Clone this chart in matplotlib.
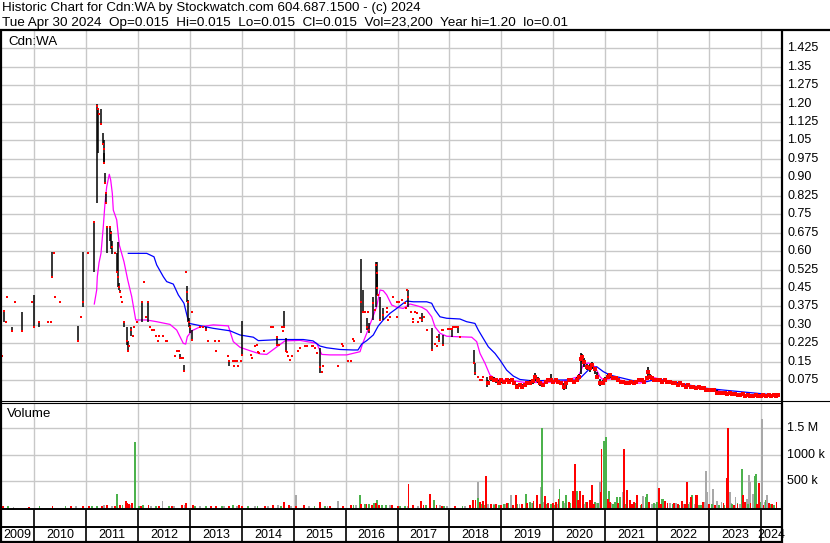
import matplotlib
matplotlib.use('Agg')
import matplotlib.pyplot as plt
from matplotlib.transforms import blended_transform_factory
from matplotlib.lines import Line2D

plt.rcParams['font.family'] = ['Liberation Sans', 'DejaVu Sans']

# ---------------- texts ----------------
title_line = "Historic Chart for Cdn:WA by Stockwatch.com 604.687.1500 - (c) 2024"
quote_line = ("Tue Apr 30 2024  Op=0.015  Hi=0.015  Lo=0.015  Cl=0.015  "
              "Vol=23,200  Year hi=1.20  lo=0.01")
symbol = "Cdn:WA"
volume_title = "Volume"

# ---------------- axes / ticks ----------------
year_labels = list(range(2009, 2025))
price_ticks = [0.075, 0.15, 0.225, 0.30, 0.375, 0.45, 0.525, 0.60, 0.675, 0.75,
               0.825, 0.90, 0.975, 1.05, 1.125, 1.20, 1.275, 1.35, 1.425]
price_tick_labels = ['0.075', '0.15', '0.225', '0.30', '0.375', '0.45', '0.525',
                     '0.60', '0.675', '0.75', '0.825', '0.90', '0.975', '1.05',
                     '1.125', '1.20', '1.275', '1.35', '1.425']
vol_ticks = [500000, 1000000, 1500000]
vol_tick_labels = ['500 k', '1000 k', '1.5 M']

# ---------------- price bars (decimal year, high, low, close) ----------------
early_dates = [2009.372, 2009.416, 2009.45, 2009.48, 2009.565, 2009.628, 2009.757, 2009.956,
               2010.0, 2010.096, 2010.264, 2010.316, 2010.335, 2010.38, 2010.40, 2010.495,
               2010.848, 2010.90, 2010.933, 2011.029, 2011.15, 2011.202, 2011.222, 2011.24,
               2011.279, 2011.33, 2011.34, 2011.35, 2011.36, 2011.375, 2011.385, 2011.395,
               2011.45, 2011.47, 2011.50, 2011.56, 2011.588, 2011.618, 2011.635, 2011.65,
               2011.67, 2011.69, 2011.728, 2011.78, 2011.815, 2011.83, 2011.86, 2011.90,
               2011.93, 2011.97, 2012.069, 2012.114, 2012.152, 2012.197, 2012.229, 2012.27,
               2012.306, 2012.34, 2012.38, 2012.41, 2012.486, 2012.53, 2012.56, 2012.711,
               2012.744, 2012.78, 2012.807, 2012.84, 2012.86, 2012.884, 2012.93, 2012.945,
               2012.96, 2012.975, 2013.0, 2013.03, 2013.045, 2013.193, 2013.26, 2013.303,
               2013.353, 2013.482, 2013.50, 2013.559, 2013.74, 2013.76, 2013.834, 2013.85,
               2013.867, 2013.90, 2013.92, 2013.98, 2014.008, 2014.17, 2014.19, 2014.252,
               2014.285, 2014.305, 2014.335, 2014.432, 2014.555, 2014.605, 2014.67, 2014.682,
               2014.72, 2014.766, 2014.785, 2014.817, 2014.85, 2014.862, 2014.895, 2014.927,
               2014.959, 2015.087, 2015.12, 2015.216, 2015.248, 2015.344, 2015.376, 2015.408,
               2015.453, 2015.505, 2015.537, 2015.569, 2015.858, 2015.922, 2015.954, 2016.05,
               2016.096, 2016.134, 2016.16, 2016.295, 2016.327, 2016.372, 2016.404, 2016.436,
               2016.455, 2016.533, 2016.565, 2016.577, 2016.597, 2016.61, 2016.629, 2016.661,
               2016.725, 2016.79, 2016.802, 2016.822, 2016.854, 2016.918, 2016.982, 2016.995,
               2017.033, 2017.078, 2017.143, 2017.162, 2017.188, 2017.207, 2017.258, 2017.29,
               2017.303, 2017.335, 2017.38, 2017.40, 2017.432, 2017.464, 2017.509, 2017.573,
               2017.656, 2017.72, 2017.753, 2017.766, 2017.804, 2017.85, 2017.868, 2017.881,
               2017.978, 2018.01, 2018.042, 2018.074, 2018.106, 2018.138, 2018.17, 2018.202,
               2018.472, 2018.491, 2018.556, 2018.588, 2018.62, 2018.652, 2018.716]
early_highs = [0.175, 0.356, 0.313, 0.415, 0.292, 0.394, 0.354, 0.394,
               0.42, 0.313, 0.313, 0.313, 0.595, 0.594, 0.415, 0.394,
               0.296, 0.333, 0.595, 0.594, 0.717, 1.197, 1.181, 1.158,
               1.18, 1.079, 1.05, 1.0, 0.917, 0.838, 0.80, 0.70,
               0.70, 0.68, 0.64, 0.594, 0.594, 0.636, 0.47, 0.44,
               0.415, 0.394, 0.316, 0.292, 0.236, 0.215, 0.292, 0.256,
               0.292, 0.313, 0.394, 0.474, 0.333, 0.394, 0.292, 0.28,
               0.28, 0.256, 0.236, 0.256, 0.256, 0.236, 0.236, 0.175,
               0.195, 0.195, 0.181, 0.167, 0.167, 0.137, 0.516, 0.458,
               0.40, 0.33, 0.30, 0.354, 0.28, 0.292, 0.292, 0.292,
               0.236, 0.236, 0.195, 0.236, 0.175, 0.157, 0.154, 0.133,
               0.154, 0.154, 0.133, 0.154, 0.316, 0.176, 0.167, 0.215,
               0.22, 0.19, 0.184, 0.195, 0.292, 0.292, 0.25, 0.25,
               0.22, 0.293, 0.277, 0.358, 0.245, 0.191, 0.174, 0.157,
               0.174, 0.195, 0.205, 0.214, 0.214, 0.214, 0.214, 0.205,
               0.184, 0.205, 0.11, 0.133, 0.133, 0.222, 0.214, 0.155,
               0.155, 0.243, 0.236, 0.567, 0.442, 0.354, 0.327, 0.354,
               0.306, 0.415, 0.361, 0.557, 0.557, 0.51, 0.422, 0.415,
               0.367, 0.367, 0.351, 0.32, 0.334, 0.412, 0.331, 0.394,
               0.392, 0.401, 0.388, 0.367, 0.442, 0.442, 0.354, 0.324,
               0.313, 0.354, 0.347, 0.313, 0.327, 0.347, 0.331, 0.279,
               0.286, 0.222, 0.25, 0.214, 0.263, 0.279, 0.259, 0.279,
               0.283, 0.283, 0.283, 0.29, 0.29, 0.29, 0.296, 0.25,
               0.198, 0.144, 0.09, 0.076, 0.076, 0.09, 0.09]
early_lows = [0.175, 0.312, 0.313, 0.415, 0.276, 0.394, 0.276, 0.394,
              0.292, 0.292, 0.313, 0.313, 0.496, 0.594, 0.415, 0.394,
              0.236, 0.333, 0.374, 0.594, 0.516, 0.797, 0.998, 1.158,
              1.12, 1.03, 0.96, 0.957, 0.876, 0.797, 0.797, 0.592,
              0.64, 0.61, 0.59, 0.594, 0.516, 0.455, 0.44, 0.43,
              0.415, 0.394, 0.292, 0.22, 0.195, 0.215, 0.256, 0.256,
              0.292, 0.313, 0.313, 0.474, 0.333, 0.313, 0.292, 0.28,
              0.28, 0.256, 0.236, 0.256, 0.256, 0.236, 0.236, 0.175,
              0.195, 0.195, 0.167, 0.167, 0.167, 0.114, 0.516, 0.394,
              0.31, 0.29, 0.266, 0.354, 0.24, 0.292, 0.292, 0.28,
              0.236, 0.236, 0.195, 0.236, 0.175, 0.133, 0.154, 0.133,
              0.154, 0.154, 0.133, 0.154, 0.176, 0.176, 0.167, 0.215,
              0.22, 0.19, 0.184, 0.195, 0.292, 0.292, 0.25, 0.216,
              0.22, 0.293, 0.277, 0.29, 0.195, 0.191, 0.174, 0.157,
              0.174, 0.195, 0.205, 0.214, 0.214, 0.214, 0.214, 0.205,
              0.184, 0.103, 0.11, 0.133, 0.133, 0.222, 0.214, 0.155,
              0.155, 0.243, 0.236, 0.266, 0.347, 0.354, 0.279, 0.354,
              0.266, 0.32, 0.361, 0.374, 0.45, 0.42, 0.422, 0.32,
              0.32, 0.367, 0.351, 0.32, 0.334, 0.412, 0.331, 0.394,
              0.392, 0.401, 0.388, 0.367, 0.442, 0.374, 0.354, 0.324,
              0.313, 0.354, 0.347, 0.313, 0.327, 0.313, 0.331, 0.279,
              0.195, 0.222, 0.25, 0.214, 0.236, 0.279, 0.214, 0.279,
              0.283, 0.283, 0.252, 0.29, 0.29, 0.29, 0.266, 0.25,
              0.144, 0.096, 0.09, 0.076, 0.076, 0.09, 0.049]
early_closes = [0.175, 0.356, 0.313, 0.415, 0.276, 0.394, 0.276, 0.394,
                0.292, 0.313, 0.313, 0.313, 0.496, 0.594, 0.415, 0.394,
                0.236, 0.333, 0.394, 0.594, 0.717, 1.19, 1.177, 1.158,
                1.117, 1.036, 1.015, 0.96, 0.878, 0.835, 0.797, 0.70,
                0.70, 0.675, 0.618, 0.594, 0.516, 0.496, 0.455, 0.435,
                0.415, 0.394, 0.313, 0.236, 0.195, 0.215, 0.28, 0.256,
                0.292, 0.313, 0.394, 0.474, 0.333, 0.394, 0.292, 0.28,
                0.28, 0.256, 0.236, 0.256, 0.256, 0.236, 0.236, 0.175,
                0.195, 0.195, 0.167, 0.167, 0.167, 0.114, 0.516, 0.435,
                0.394, 0.313, 0.292, 0.354, 0.24, 0.292, 0.292, 0.28,
                0.236, 0.236, 0.195, 0.236, 0.175, 0.154, 0.154, 0.133,
                0.154, 0.154, 0.133, 0.154, 0.176, 0.176, 0.167, 0.215,
                0.22, 0.19, 0.184, 0.195, 0.292, 0.292, 0.25, 0.22,
                0.22, 0.293, 0.277, 0.29, 0.195, 0.191, 0.174, 0.157,
                0.174, 0.195, 0.205, 0.214, 0.214, 0.214, 0.214, 0.205,
                0.184, 0.13, 0.11, 0.133, 0.133, 0.222, 0.214, 0.155,
                0.155, 0.243, 0.236, 0.394, 0.354, 0.354, 0.29, 0.354,
                0.28, 0.388, 0.361, 0.544, 0.51, 0.449, 0.422, 0.32,
                0.34, 0.367, 0.351, 0.32, 0.334, 0.412, 0.331, 0.394,
                0.392, 0.401, 0.388, 0.367, 0.442, 0.412, 0.354, 0.324,
                0.313, 0.354, 0.347, 0.313, 0.327, 0.32, 0.331, 0.279,
                0.198, 0.222, 0.25, 0.214, 0.236, 0.279, 0.22, 0.279,
                0.283, 0.283, 0.283, 0.29, 0.29, 0.29, 0.29, 0.25,
                0.144, 0.103, 0.09, 0.076, 0.076, 0.09, 0.069]

late_dates = [2018.75, 2018.80, 2018.85, 2018.90, 2018.95, 2019.00, 2019.05, 2019.10,
              2019.15, 2019.20, 2019.25, 2019.30, 2019.35, 2019.40, 2019.45, 2019.50,
              2019.55, 2019.60, 2019.65, 2019.70, 2019.75, 2019.80, 2019.85, 2019.90,
              2019.95, 2020.00, 2020.05, 2020.10, 2020.15, 2020.20, 2020.25, 2020.30,
              2020.35, 2020.40, 2020.45, 2020.50, 2020.53, 2020.56, 2020.60, 2020.65,
              2020.70, 2020.75, 2020.80, 2020.85, 2020.90, 2020.95, 2021.00, 2021.05,
              2021.10, 2021.15, 2021.20, 2021.25, 2021.30, 2021.35, 2021.40, 2021.45,
              2021.50, 2021.55, 2021.60, 2021.65, 2021.70, 2021.75, 2021.80, 2021.83,
              2021.86, 2021.90, 2021.95, 2022.00, 2022.05, 2022.10, 2022.15, 2022.20,
              2022.25, 2022.30, 2022.35, 2022.40, 2022.45, 2022.50, 2022.55, 2022.60,
              2022.65, 2022.70, 2022.75, 2022.80, 2022.85, 2022.90, 2022.95, 2023.00,
              2023.05, 2023.10, 2023.15, 2023.20, 2023.25, 2023.30, 2023.35, 2023.40,
              2023.45, 2023.50, 2023.55, 2023.60, 2023.65, 2023.70, 2023.75, 2023.80,
              2023.85, 2023.90, 2023.95, 2024.00, 2024.05, 2024.10, 2024.15, 2024.20,
              2024.25, 2024.30, 2024.33]
late_highs = [0.075, 0.09, 0.09, 0.08, 0.076, 0.08, 0.076, 0.085,
              0.08, 0.085, 0.07, 0.06, 0.065, 0.06, 0.065, 0.07,
              0.075, 0.08, 0.105, 0.09, 0.07, 0.065, 0.075, 0.08,
              0.10, 0.076, 0.08, 0.076, 0.07, 0.062, 0.07, 0.08,
              0.08, 0.076, 0.09, 0.10, 0.185, 0.18, 0.165, 0.14,
              0.14, 0.15, 0.13, 0.11, 0.08, 0.075, 0.09, 0.10,
              0.10, 0.09, 0.09, 0.085, 0.076, 0.076, 0.07, 0.07,
              0.076, 0.07, 0.076, 0.083, 0.083, 0.076, 0.09, 0.13,
              0.10, 0.09, 0.083, 0.083, 0.083, 0.076, 0.08, 0.076,
              0.076, 0.069, 0.069, 0.062, 0.069, 0.062, 0.056, 0.062,
              0.056, 0.056, 0.049, 0.056, 0.049, 0.049, 0.042, 0.042,
              0.04, 0.04, 0.035, 0.028, 0.028, 0.025, 0.025, 0.028,
              0.022, 0.022, 0.02, 0.02, 0.022, 0.018, 0.018, 0.015,
              0.015, 0.018, 0.015, 0.015, 0.018, 0.015, 0.02, 0.015,
              0.018, 0.015, 0.015]
late_lows = [0.055, 0.07, 0.07, 0.065, 0.06, 0.065, 0.062, 0.07,
             0.06, 0.07, 0.055, 0.045, 0.05, 0.045, 0.05, 0.055,
             0.055, 0.06, 0.07, 0.065, 0.05, 0.05, 0.06, 0.07,
             0.07, 0.06, 0.07, 0.062, 0.055, 0.035, 0.04, 0.07,
             0.07, 0.062, 0.07, 0.08, 0.10, 0.15, 0.13, 0.115,
             0.11, 0.12, 0.10, 0.08, 0.05, 0.055, 0.07, 0.08,
             0.085, 0.076, 0.076, 0.07, 0.062, 0.062, 0.056, 0.056,
             0.062, 0.056, 0.062, 0.069, 0.069, 0.062, 0.076, 0.09,
             0.083, 0.076, 0.069, 0.069, 0.069, 0.062, 0.069, 0.062,
             0.062, 0.056, 0.056, 0.05, 0.056, 0.049, 0.042, 0.049,
             0.042, 0.042, 0.035, 0.042, 0.035, 0.035, 0.03, 0.03,
             0.028, 0.028, 0.015, 0.018, 0.018, 0.015, 0.015, 0.018,
             0.015, 0.012, 0.012, 0.012, 0.012, 0.01, 0.01, 0.01,
             0.01, 0.01, 0.01, 0.01, 0.01, 0.01, 0.012, 0.01,
             0.012, 0.01, 0.015]
late_closes = [0.062, 0.085, 0.076, 0.076, 0.062, 0.076, 0.069, 0.076,
               0.069, 0.076, 0.062, 0.049, 0.056, 0.049, 0.056, 0.062,
               0.062, 0.07, 0.09, 0.076, 0.062, 0.056, 0.069, 0.076,
               0.076, 0.069, 0.076, 0.069, 0.062, 0.049, 0.062, 0.076,
               0.076, 0.069, 0.076, 0.09, 0.16, 0.17, 0.15, 0.13,
               0.125, 0.135, 0.12, 0.09, 0.062, 0.062, 0.076, 0.09,
               0.095, 0.083, 0.083, 0.076, 0.069, 0.069, 0.062, 0.062,
               0.069, 0.062, 0.069, 0.076, 0.076, 0.069, 0.083, 0.11,
               0.09, 0.083, 0.076, 0.076, 0.076, 0.069, 0.076, 0.069,
               0.069, 0.062, 0.062, 0.056, 0.062, 0.056, 0.049, 0.056,
               0.049, 0.049, 0.042, 0.049, 0.042, 0.042, 0.035, 0.035,
               0.035, 0.035, 0.022, 0.022, 0.022, 0.022, 0.02, 0.022,
               0.018, 0.018, 0.015, 0.015, 0.018, 0.012, 0.015, 0.012,
               0.012, 0.015, 0.012, 0.012, 0.015, 0.012, 0.015, 0.012,
               0.015, 0.012, 0.015]

# ---------------- moving averages ----------------
ma_short_dates = [2011.156, 2011.202, 2011.214, 2011.247, 2011.285, 2011.329, 2011.362, 2011.395,
                  2011.445, 2011.472, 2011.503, 2011.522, 2011.588, 2011.638, 2011.728, 2011.80,
                  2011.877, 2011.954, 2012.166, 2012.358, 2012.615, 2012.744, 2012.871, 2012.917,
                  2012.948, 2013.033, 2013.193, 2013.449, 2013.738, 2013.834, 2013.963, 2014.156,
                  2014.349, 2014.478, 2014.638, 2014.734, 2014.83, 2015.119, 2015.441, 2015.538,
                  2015.697, 2016.019, 2016.276, 2016.328, 2016.405, 2016.501, 2016.597, 2016.661,
                  2016.724, 2016.79, 2016.886, 2016.983, 2017.11, 2017.239, 2017.368, 2017.464,
                  2017.561, 2017.657, 2017.721, 2017.817, 2017.946, 2018.139, 2018.428, 2018.524,
                  2018.588, 2018.684, 2018.78, 2018.909, 2019.229, 2019.487, 2020.129, 2020.482,
                  2020.578, 2020.674, 2020.803, 2020.90, 2020.963, 2021.156, 2021.414, 2021.671,
                  2021.80, 2021.863, 2021.992, 2022.312, 2022.57, 2022.956, 2023.148, 2023.341,
                  2023.694, 2023.983, 2024.335]
ma_short_values = [0.385, 0.442, 0.496, 0.553, 0.591, 0.699, 0.795, 0.862,
                   0.9125, 0.889, 0.835, 0.767, 0.727, 0.625, 0.557, 0.483,
                   0.415, 0.320, 0.320, 0.313, 0.302, 0.279, 0.225, 0.222,
                   0.252, 0.276, 0.292, 0.300, 0.296, 0.232, 0.209, 0.195,
                   0.182, 0.180, 0.205, 0.22, 0.235, 0.237, 0.225, 0.180,
                   0.178, 0.178, 0.191, 0.225, 0.266, 0.320, 0.374, 0.442,
                   0.439, 0.422, 0.381, 0.372, 0.367, 0.385, 0.378, 0.372,
                   0.36, 0.333, 0.292, 0.266, 0.254, 0.252, 0.250, 0.232,
                   0.184, 0.144, 0.096, 0.078, 0.073, 0.065, 0.068, 0.089,
                   0.137, 0.146, 0.13, 0.089, 0.076, 0.083, 0.069, 0.063,
                   0.076, 0.089, 0.083, 0.063, 0.052, 0.040, 0.035, 0.022,
                   0.015, 0.0114, 0.009]
ma_long_dates = [2011.811, 2012.166, 2012.306, 2012.358, 2012.486, 2012.551, 2012.678, 2012.775,
                 2012.884, 2012.948, 2012.987, 2013.193, 2013.449, 2013.770, 2013.963, 2014.22,
                 2014.316, 2014.734, 2015.183, 2015.37, 2015.505, 2015.634, 2015.89, 2016.141,
                 2016.237, 2016.308, 2016.405, 2016.532, 2016.628, 2016.724, 2016.853, 2016.983,
                 2017.11, 2017.175, 2017.303, 2017.561, 2017.657, 2017.721, 2017.817, 2017.946,
                 2018.202, 2018.331, 2018.491, 2018.555, 2018.651, 2018.748, 2018.877, 2018.973,
                 2019.102, 2019.229, 2019.358, 2019.615, 2020.129, 2020.482, 2020.578, 2020.707,
                 2020.836, 2020.963, 2021.092, 2021.285, 2021.541, 2021.80, 2021.927, 2022.119,
                 2022.312, 2022.441, 2022.697, 2022.956, 2023.276, 2023.597, 2023.919, 2024.239,
                 2024.335]
ma_long_values = [0.591, 0.591, 0.577, 0.544, 0.496, 0.476, 0.466, 0.422,
                  0.388, 0.333, 0.306, 0.297, 0.286, 0.276, 0.259, 0.250,
                  0.236, 0.2405, 0.2405, 0.235, 0.214, 0.207, 0.200, 0.198,
                  0.198, 0.222, 0.236, 0.259, 0.296, 0.320, 0.347, 0.367,
                  0.388, 0.397, 0.394, 0.394, 0.388, 0.361, 0.333, 0.327,
                  0.324, 0.313, 0.306, 0.279, 0.245, 0.211, 0.184, 0.157,
                  0.116, 0.092, 0.078, 0.072, 0.076, 0.076, 0.096, 0.123,
                  0.13, 0.11, 0.096, 0.086, 0.073, 0.069, 0.076, 0.076,
                  0.069, 0.063, 0.052, 0.042, 0.035, 0.0285, 0.022, 0.0155,
                  0.0114]

# ---------------- volume (decimal year, shares) ----------------
up_dates = [2009.50, 2010.10, 2010.60, 2011.20, 2011.60, 2011.70, 2011.94, 2012.10,
            2012.60, 2013.30, 2013.83, 2014.30, 2014.90, 2015.60, 2016.28, 2016.45,
            2016.54, 2016.60, 2016.70, 2017.05, 2017.70, 2017.90, 2018.55, 2018.62,
            2018.85, 2019.05, 2019.30, 2019.47, 2019.60, 2019.79, 2019.95, 2020.12,
            2020.25, 2020.33, 2020.46, 2020.51, 2020.74, 2020.80, 2020.98, 2021.01,
            2021.07, 2021.15, 2021.23, 2021.29, 2021.50, 2021.79, 2021.81, 2021.94,
            2022.09, 2022.12, 2022.30, 2022.68, 2022.85, 2023.20, 2023.45, 2023.64,
            2023.75, 2023.88, 2023.91, 2024.09, 2024.20,
            2011.12, 2012.02, 2012.35, 2013.10, 2013.62, 2014.12, 2014.75, 2015.40,
            2016.15, 2016.38, 2016.78, 2017.15, 2017.55, 2018.25, 2018.68, 2018.95,
            2019.12, 2019.40, 2019.55, 2019.88, 2020.03, 2020.18, 2020.39, 2020.62,
            2020.86, 2021.19, 2021.40, 2021.58, 2021.68, 2022.00, 2022.20, 2022.42,
            2022.60, 2022.80, 2023.05, 2023.30, 2023.55, 2023.98, 2024.26]
up_vols = [15e3, 10e3, 12e3, 20e3, 255e3, 40e3, 1236e3, 30e3,
           25e3, 20e3, 30e3, 25e3, 20e3, 20e3, 223e3, 50e3,
           75e3, 140e3, 40e3, 20e3, 140e3, 25e3, 170e3, 60e3,
           40e3, 50e3, 60e3, 255e3, 80e3, 1510e3, 60e3, 343e3,
           235e3, 80e3, 300e3, 280e3, 235e3, 90e3, 1265e3, 1330e3,
           300e3, 60e3, 185e3, 185e3, 50e3, 185e3, 250e3, 80e3,
           160e3, 160e3, 50e3, 229e3, 40e3, 40e3, 50e3, 725e3,
           50e3, 597e3, 630e3, 140e3, 60e3,
           15e3, 25e3, 20e3, 15e3, 18e3, 20e3, 25e3, 18e3,
           30e3, 60e3, 35e3, 25e3, 30e3, 20e3, 40e3, 45e3,
           70e3, 40e3, 90e3, 50e3, 45e3, 120e3, 60e3, 90e3,
           70e3, 100e3, 60e3, 80e3, 45e3, 90e3, 70e3, 40e3,
           60e3, 30e3, 50e3, 35e3, 80e3, 100e3, 40e3]
down_dates = [2009.40, 2009.90, 2010.35, 2010.93, 2011.30, 2011.40, 2011.55, 2011.76,
              2011.79, 2011.82, 2011.88, 2012.20, 2012.40, 2012.92, 2013.05, 2013.50,
              2013.75, 2014.01, 2014.60, 2014.81, 2015.05, 2015.51, 2015.70, 2016.30,
              2016.40, 2016.50, 2016.65, 2016.90, 2017.21, 2017.30, 2017.45, 2017.63,
              2017.85, 2018.46, 2018.50, 2018.70, 2018.80, 2019.00, 2019.28, 2019.40,
              2019.69, 2019.84, 2019.90, 2020.05, 2020.38, 2020.42, 2020.51, 2020.57,
              2020.65, 2020.74, 2020.91, 2020.93, 2021.10, 2021.37, 2021.41, 2021.43,
              2021.55, 2021.61, 2021.70, 2022.04, 2022.20, 2022.40, 2022.58, 2022.66,
              2022.74, 2022.77, 2023.00, 2023.35, 2023.37, 2023.55, 2023.66, 2023.80,
              2023.97, 2024.15, 2024.30,
              2010.70, 2011.05, 2011.65, 2012.05, 2012.65, 2012.85, 2013.40, 2013.95,
              2014.45, 2014.90, 2015.20, 2015.95, 2016.10, 2016.58, 2017.00, 2017.50,
              2017.75, 2018.10, 2018.40, 2018.58, 2018.65, 2018.90, 2019.10, 2019.22,
              2019.50, 2019.62, 2019.75, 2020.00, 2020.10, 2020.30, 2020.48, 2020.70,
              2020.78, 2021.05, 2021.25, 2021.47, 2021.52, 2021.85, 2022.07, 2022.15,
              2022.33, 2022.48, 2022.53, 2022.88, 2023.12, 2023.28, 2023.48, 2023.70,
              2023.93, 2024.05, 2024.22]
down_vols = [10e3, 8e3, 15e3, 20e3, 25e3, 30e3, 20e3, 108e3,
             80e3, 60e3, 70e3, 30e3, 20e3, 80e3, 30e3, 15e3,
             20e3, 25e3, 30e3, 90e3, 20e3, 90e3, 20e3, 60e3,
             50e3, 40e3, 40e3, 30e3, 446e3, 30e3, 108e3, 255e3,
             20e3, 140e3, 140e3, 600e3, 60e3, 40e3, 235e3, 60e3,
             235e3, 216e3, 80e3, 100e3, 300e3, 820e3, 300e3, 220e3,
             100e3, 420e3, 280e3, 1107e3, 100e3, 1107e3, 330e3, 330e3,
             100e3, 220e3, 60e3, 357e3, 80e3, 60e3, 471e3, 200e3,
             220e3, 235e3, 60e3, 550e3, 1500e3, 60e3, 220e3, 80e3,
             460e3, 80e3, 100e3,
             12e3, 15e3, 30e3, 20e3, 25e3, 35e3, 20e3, 30e3,
             25e3, 40e3, 30e3, 20e3, 30e3, 70e3, 25e3, 40e3,
             30e3, 25e3, 30e3, 90e3, 110e3, 50e3, 80e3, 40e3,
             70e3, 120e3, 60e3, 80e3, 150e3, 90e3, 130e3, 140e3,
             60e3, 150e3, 80e3, 130e3, 60e3, 90e3, 50e3, 110e3,
             70e3, 120e3, 60e3, 90e3, 40e3, 70e3, 30e3, 90e3,
             60e3, 40e3, 50e3]
flat_dates = [2009.60, 2010.80, 2011.35, 2011.85, 2012.47, 2012.70, 2013.20, 2013.90,
              2014.50, 2014.70, 2015.05, 2015.30, 2015.85, 2016.20, 2016.85, 2017.40,
              2017.95, 2018.55, 2018.65, 2018.75, 2019.18, 2019.35, 2019.77, 2019.82,
              2020.20, 2020.60, 2020.90, 2021.20, 2021.35, 2021.73, 2021.90, 2022.25,
              2022.50, 2022.90, 2022.94, 2022.97, 2023.08, 2023.40, 2023.51, 2023.60,
              2023.74, 2023.77, 2023.80, 2023.85, 2024.02, 2024.11, 2024.25,
              2011.50, 2012.25, 2012.90, 2013.65, 2014.25, 2014.95, 2015.65, 2016.65,
              2017.20, 2017.82, 2018.30, 2018.85, 2019.08, 2019.58, 2020.08, 2020.44,
              2020.83, 2021.12, 2021.62, 2021.97, 2022.37, 2022.63, 2022.72, 2023.16,
              2023.24, 2023.43, 2023.86, 2024.07]
flat_vols = [8e3, 10e3, 40e3, 30e3, 108e3, 20e3, 15e3, 15e3,
             20e3, 30e3, 235e3, 20e3, 108e3, 30e3, 30e3, 25e3,
             20e3, 478e3, 100e3, 50e3, 235e3, 50e3, 390e3, 100e3,
             80e3, 60e3, 470e3, 80e3, 280e3, 205e3, 60e3, 80e3,
             60e3, 100e3, 690e3, 290e3, 343e3, 290e3, 185e3, 60e3,
             150e3, 610e3, 469e3, 240e3, 1680e3, 220e3, 40e3,
             25e3, 20e3, 30e3, 15e3, 20e3, 25e3, 20e3, 30e3,
             25e3, 30e3, 25e3, 50e3, 60e3, 70e3, 50e3, 90e3,
             80e3, 70e3, 60e3, 50e3, 70e3, 90e3, 60e3, 120e3,
             100e3, 80e3, 140e3, 90e3]

# ---------------- figure ----------------
W, H = 830, 543
fig = plt.figure(figsize=(W / 100, H / 100), dpi=100)
fig.patch.set_facecolor('white')

def fx(px):
    return px / W

def fy(py):
    return 1 - py / H

GRID = '#c8c8c8'
X0, X1 = 2009.339, 2024.407
PANEL_R = 782
FS_HEAD = 9.6
FS_LAB = 9.0

def frame_line(x0, y0, x1, y1, lw=1.0, color='black'):
    fig.add_artist(Line2D([fx(x0), fx(x1)], [fy(y0), fy(y1)], lw=lw, color=color,
                          solid_capstyle='butt'))

# price panel
ax = fig.add_axes([0, fy(401), fx(PANEL_R), (401 - 30) / H])
ax.set_xlim(X0, X1)
ax.set_ylim(-0.0095, 1.4994)
ax.set_axis_off()
for t in price_ticks:
    ax.axhline(t, color=GRID, lw=1.0, zorder=0)
for yv in year_labels[1:]:
    ax.axvline(yv, color=GRID, lw=1.0, zorder=0)

ax.plot(ma_short_dates, ma_short_values, color='#ff00ff', lw=0.9, zorder=2)
ax.plot(ma_long_dates, ma_long_values, color='#0000ff', lw=0.9, zorder=2)
ax.vlines(early_dates, early_lows, early_highs, color='black', lw=1.1, zorder=3)
ax.vlines(late_dates, late_lows, late_highs, color='black', lw=1.2, zorder=3)
ax.plot(early_dates, early_closes, 's', color='#ff0000', ms=1.9, mew=0, zorder=4)
ax.plot(late_dates, late_closes, 's', color='#ff0000', ms=2.3, mew=0, zorder=4)

tr = blended_transform_factory(ax.transAxes, ax.transData)
for t, lab in zip(price_ticks, price_tick_labels):
    ax.text(787 / PANEL_R, t, lab, transform=tr, ha='left', va='center',
            fontsize=FS_LAB, clip_on=False)
ax.text(8 / PANEL_R, 1 - (42 - 30) / (401 - 30), symbol, transform=ax.transAxes,
        ha='left', va='center', fontsize=FS_HEAD)

# volume panel
axv = fig.add_axes([0, fy(509), fx(PANEL_R), (509 - 403) / H])
axv.set_xlim(X0, X1)
axv.set_ylim(-38000, 1985000)
axv.set_axis_off()
for t in vol_ticks:
    axv.axhline(t, color=GRID, lw=1.0, zorder=0)
for yv in year_labels[1:]:
    axv.axvline(yv, color=GRID, lw=1.0, zorder=0)
BW = 0.036
base = -38000
axv.bar(flat_dates, [v - base for v in flat_vols], bottom=base, width=BW, color='#a8a8a8', lw=0, zorder=2)
axv.bar(up_dates, [v - base for v in up_vols], bottom=base, width=BW, color='#4cb24c', lw=0, zorder=2)
axv.bar(down_dates, [v - base for v in down_vols], bottom=base, width=BW, color='#ff0000', lw=0, zorder=2)
trv = blended_transform_factory(axv.transAxes, axv.transData)
for t, lab in zip(vol_ticks, vol_tick_labels):
    axv.text(787 / PANEL_R, t, lab, transform=trv, ha='left', va='center',
             fontsize=FS_LAB, clip_on=False)
axv.text(7 / PANEL_R, 1 - (414 - 403) / (509 - 403), volume_title, transform=axv.transAxes,
         ha='left', va='center', fontsize=FS_HEAD)

# date row
axd = fig.add_axes([0, fy(543), fx(PANEL_R), (543 - 509) / H])
axd.set_xlim(X0, X1)
axd.set_ylim(0, 1)
axd.set_axis_off()
for yv in year_labels[1:]:
    axd.axvline(yv, color='black', lw=1.2)
for yv in year_labels:
    lo = max(yv, X0)
    hi = min(yv + 1, X1)
    axd.text((lo + hi) / 2, (543 - 535) / (543 - 509), str(yv), ha='center', va='center',
             fontsize=FS_LAB, clip_on=False)

# frame lines
frame_line(0, 30, W, 30, lw=1.6)
frame_line(0, 401, W, 401, lw=0.8)
frame_line(0, 403.2, PANEL_R, 403.2, lw=0.8)
frame_line(0, 509, PANEL_R, 509, lw=1.4)
frame_line(0, 527, PANEL_R, 527, lw=1.4)
frame_line(0, 542, PANEL_R, 542, lw=1.6)
frame_line(0.8, 30, 0.8, 543, lw=1.6)
frame_line(PANEL_R, 30, PANEL_R, 543, lw=1.6)

# header
fig.text(fx(2), fy(8), title_line, ha='left', va='center', fontsize=FS_HEAD)
fig.text(fx(2), fy(23), quote_line, ha='left', va='center', fontsize=9.7)

fig.savefig('out.png', dpi=100, facecolor='white')
